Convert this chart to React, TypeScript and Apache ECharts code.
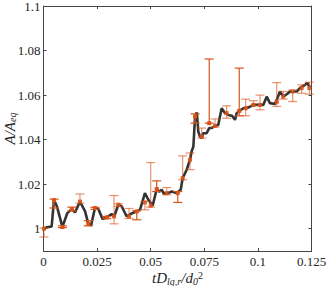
import React, { useEffect, useRef } from "react";
import * as echarts from "echarts";

const lineX = [0.0002, 0.0016, 0.0038, 0.0049, 0.0063, 0.0088, 0.0111, 0.0132, 0.0147, 0.017, 0.0194, 0.0209, 0.0222, 0.024, 0.0256, 0.0276, 0.0295, 0.0318, 0.033, 0.0349, 0.0365, 0.0388, 0.0408, 0.0435, 0.045, 0.0473, 0.0489, 0.0509, 0.0528, 0.0539, 0.0551, 0.0562, 0.0582, 0.0598, 0.0621, 0.064, 0.0649, 0.0668, 0.0683, 0.0691, 0.0699, 0.0707, 0.0715, 0.0722, 0.073, 0.0738, 0.0745, 0.0761, 0.0773, 0.0785, 0.08, 0.0815, 0.0831, 0.0847, 0.0862, 0.0879, 0.0893, 0.0901, 0.0913, 0.0932, 0.0955, 0.0979, 0.1002, 0.1025, 0.1041, 0.1056, 0.108, 0.1103, 0.1118, 0.1136, 0.115, 0.1181, 0.1196, 0.122, 0.123, 0.1243];
const lineY = [1.0, 1.0007, 1.001, 1.013, 1.0099, 1.0008, 1.007, 1.0088, 1.0073, 1.0122, 1.0078, 1.0022, 1.0015, 1.0093, 1.0088, 1.0043, 1.0051, 1.0066, 1.0055, 1.0108, 1.01, 1.0055, 1.0067, 1.0078, 1.0085, 1.016, 1.013, 1.0103, 1.0178, 1.0166, 1.0175, 1.0157, 1.016, 1.0167, 1.016, 1.0175, 1.0227, 1.0265, 1.0309, 1.0347, 1.0369, 1.0504, 1.0522, 1.0436, 1.0414, 1.0407, 1.0429, 1.0429, 1.0452, 1.0452, 1.0462, 1.0466, 1.0541, 1.0519, 1.0511, 1.0507, 1.0489, 1.0519, 1.0529, 1.0541, 1.0544, 1.0556, 1.0556, 1.0556, 1.0593, 1.0564, 1.056, 1.0616, 1.0593, 1.0605, 1.0616, 1.0616, 1.0631, 1.0646, 1.0654, 1.0635];

// error bars, darker set
const darkX = [0.0049, 0.0088, 0.0132, 0.0209, 0.024, 0.0295, 0.0435, 0.0528, 0.0626, 0.0707, 0.0773, 0.0913];
const darkY = [1.0128, 1.0008, 1.0088, 1.0022, 1.0093, 1.0051, 1.0078, 1.0178, 1.016, 1.0504, 1.0474, 1.0529];
const darkLow = [1.0093, 1.0005, 1.008, 1.0013, 1.0087, 1.0045, 1.004, 1.0167, 1.0118, 1.0474, 1.0474, 1.0507];
const darkHigh = [1.0133, 1.0013, 1.0097, 1.0036, 1.0096, 1.0055, 1.0081, 1.0215, 1.0167, 1.0516, 1.0762, 1.0721];

// error bars, lighter set
const lightX = [0.0002, 0.017, 0.0329, 0.0349, 0.0399, 0.0473, 0.05, 0.0575, 0.0649, 0.0683, 0.0738, 0.08, 0.0854, 0.0943, 0.0979, 0.101, 0.1088, 0.1118, 0.1162, 0.1204, 0.124];
const lightY = [1.0, 1.0122, 1.0055, 1.0108, 1.0055, 1.0118, 1.0103, 1.016, 1.0227, 1.0309, 1.0414, 1.0462, 1.0519, 1.0541, 1.0556, 1.0556, 1.057, 1.0593, 1.0616, 1.0631, 1.0631];
const lightLow = [0.9963, 1.0115, 1.0022, 1.01, 1.0046, 1.0085, 1.0097, 1.0152, 1.022, 1.0265, 1.0407, 1.0456, 1.0496, 1.0507, 1.0553, 1.0534, 1.0549, 1.0582, 1.0571, 1.0608, 1.0604];
const lightHigh = [1.0003, 1.0156, 1.0149, 1.0112, 1.0091, 1.0122, 1.0297, 1.0185, 1.0327, 1.034, 1.0452, 1.0493, 1.0552, 1.0582, 1.0575, 1.06, 1.0656, 1.0616, 1.0623, 1.0646, 1.0658];

const yTicks = [1, 1.02, 1.04, 1.06, 1.08, 1.1];

const FONT = '"Liberation Serif", "DejaVu Serif", serif';
const AXIS_COLOR = "#262626";
const ORANGE = "#D95319";

function errSeries(xs: number[], ys: number[], lo: number[], hi: number[], opacity: number) {
  return {
    type: "custom",
    xAxisIndex: 0,
    yAxisIndex: 0,
    z: 3,
    data: xs.map((x, i) => [x, ys[i], lo[i], hi[i]]),
    encode: { x: 0, y: [1, 2, 3] },
    renderItem: (_p: any, api: any) => {
      const x = api.value(0);
      const pc = api.coord([x, api.value(1)]);
      const pl = api.coord([x, api.value(2)]);
      const ph = api.coord([x, api.value(3)]);
      const w = 4.5;
      const st = { stroke: ORANGE, lineWidth: 1.2, opacity };
      return {
        type: "group",
        children: [
          { type: "line", shape: { x1: pl[0], y1: pl[1], x2: ph[0], y2: ph[1] }, style: st },
          { type: "line", shape: { x1: pl[0] - w, y1: pl[1], x2: pl[0] + w, y2: pl[1] }, style: st },
          { type: "line", shape: { x1: ph[0] - w, y1: ph[1], x2: ph[0] + w, y2: ph[1] }, style: st },
          { type: "rect", shape: { x: pc[0] - 2, y: pc[1] - 2, width: 4, height: 4 }, style: { fill: ORANGE, opacity: Math.min(1, opacity + 0.25) } },
        ],
      };
    },
  };
}

export default function App() {
  const ref = useRef<HTMLDivElement>(null);
  useEffect(() => {
    if (!ref.current) return;
    const chart = echarts.init(ref.current, null, { renderer: "svg" });
    const xFmt = (v: number) => String(parseFloat(v.toFixed(3)));
    const baseAxisLine = { show: true, onZero: false, lineStyle: { color: "#444", width: 1 } };
    const tick = { show: true, inside: true, length: 3, lineStyle: { color: "#444" } };
    chart.setOption({
      animation: false,
      backgroundColor: "#fff",
      grid: { left: 43.5, right: 15.5, top: 6, bottom: 35, containLabel: false, outerBoundsMode: "none" },
      xAxis: [
        {
          type: "value",
          min: 0,
          max: 0.125,
          interval: 0.025,
          axisLine: baseAxisLine,
          axisTick: tick,
          splitLine: { show: false },
          axisLabel: { formatter: xFmt, fontFamily: FONT, fontSize: 13, color: AXIS_COLOR, margin: 4 },
          name: "{i|tD}{s|lg,r}{i|/d}{s|0}{p|2}",
          nameLocation: "middle",
          nameGap: 19,
          nameMoveOverlap: false,
          nameTextStyle: {
            fontFamily: FONT,
            rich: {
              i: { fontFamily: FONT, fontStyle: "italic", fontSize: 15, color: AXIS_COLOR, lineHeight: 16, verticalAlign: "middle" },
              s: { fontFamily: FONT, fontStyle: "italic", fontSize: 10, color: AXIS_COLOR, lineHeight: 16, verticalAlign: "bottom" },
              p: { fontFamily: FONT, fontSize: 10, color: AXIS_COLOR, lineHeight: 16, verticalAlign: "top" },
            },
          },
        },
        {
          type: "value",
          position: "top",
          min: 0,
          max: 0.125,
          interval: 0.025,
          axisLine: baseAxisLine,
          axisTick: tick,
          splitLine: { show: false },
          axisLabel: { show: false },
        },
      ],
      yAxis: [
        {
          type: "value",
          min: 0.99,
          max: 1.1,
          axisLine: baseAxisLine,
          axisTick: { ...tick, customValues: yTicks },
          splitLine: { show: false },
          axisLabel: {
            customValues: yTicks,
            formatter: (v: number) => String(parseFloat(v.toFixed(2))),
            fontFamily: FONT,
            fontSize: 13,
            color: AXIS_COLOR,
            margin: 3,
          },
          name: "{i|A/A}{s|eq}",
          nameLocation: "middle",
          nameRotate: 90,
          nameGap: 26,
          nameMoveOverlap: false,
          nameTextStyle: {
            rich: {
              i: { fontFamily: FONT, fontStyle: "italic", fontSize: 15, color: AXIS_COLOR, lineHeight: 16, verticalAlign: "middle" },
              s: { fontFamily: FONT, fontStyle: "italic", fontSize: 10, color: AXIS_COLOR, lineHeight: 16, verticalAlign: "bottom" },
            },
          },
        },
        {
          type: "value",
          position: "right",
          min: 0.99,
          max: 1.1,
          axisLine: baseAxisLine,
          axisTick: { ...tick, customValues: yTicks },
          splitLine: { show: false },
          axisLabel: { show: false },
        },
      ],
      series: [
        {
          type: "line",
          xAxisIndex: 0,
          yAxisIndex: 0,
          data: lineX.map((x, i) => [x, lineY[i]]),
          showSymbol: false,
          lineStyle: { color: "#333333", width: 2.6 },
          z: 2,
        },
        errSeries(lightX, lightY, lightLow, lightHigh, 0.62),
        errSeries(darkX, darkY, darkLow, darkHigh, 1),
      ],
    });
    return () => chart.dispose();
  }, []);
  return <div ref={ref} style={{ position: "fixed", left: 0, top: 0, width: 327, height: 286 }} />;
}
